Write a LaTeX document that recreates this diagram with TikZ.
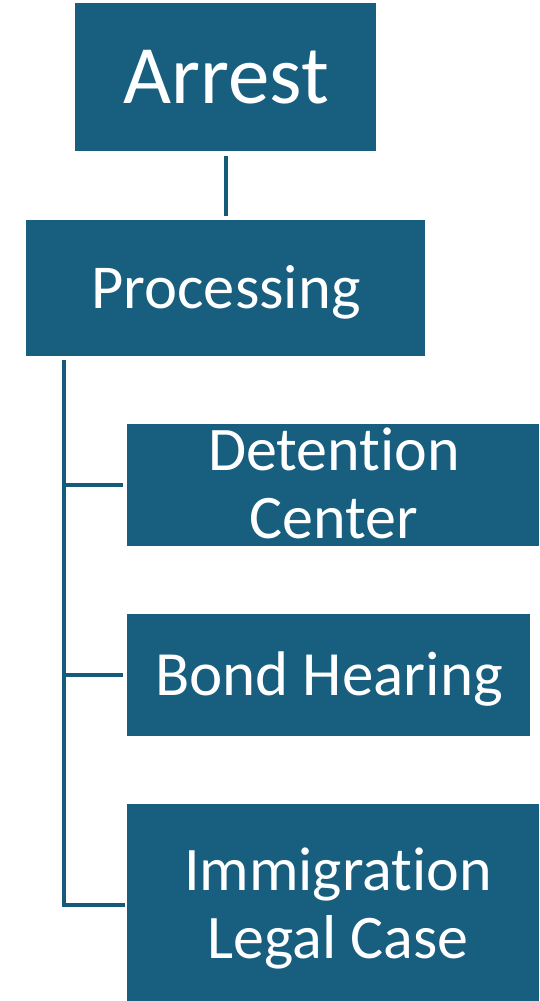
\documentclass[tikz,border=0pt]{standalone}
\usepackage{fontspec}
\setmainfont{Carlito}[Ligatures=NoCommon]
\definecolor{boxblue}{HTML}{175E7F}
\definecolor{linkblue}{HTML}{165A7A}
\begin{document}
\begin{tikzpicture}[x=1pt,y=-1pt,
  box/.style={fill=boxblue,draw=none,inner sep=0pt,anchor=north west},
  lbl/.style={text=white,anchor=base,inner sep=0pt,align=center},
  link/.style={draw=linkblue,line width=3.5pt}]
\useasboundingbox (0,0) rectangle (539,1001);
% boxes
\node[box,minimum width=301pt,minimum height=148pt] (arrest) at (75,3) {};
\node[box,minimum width=399pt,minimum height=136pt] (proc) at (26,220) {};
\node[box,minimum width=412pt,minimum height=122pt] (det) at (127,424) {};
\node[box,minimum width=403pt,minimum height=122pt] (bond) at (127,614) {};
\node[box,minimum width=412pt,minimum height=197pt] (imm) at (127,804) {};
% texts
\node[lbl,font=\fontsize{83}{90}\selectfont] (tarrest) at (226,103) {Arrest};
\node[lbl,font=\fontsize{62.5}{68}\selectfont] (tproc) at (226,308) {Processing};
\node[lbl,font=\fontsize{62}{68}\selectfont] (tdet1) at (334,470) {Detent\kern0pt ion};
\node[lbl,font=\fontsize{62}{68}\selectfont] (tdet2) at (334,538) {Center};
\node[lbl,font=\fontsize{63}{68}\selectfont] (tbond) at (329,695) {Bond Hearing};
\node[lbl,font=\fontsize{62}{68}\selectfont] (timm1) at (338,890) {Immigrat\kern0pt ion};
\node[lbl,font=\fontsize{62}{68}\selectfont] (timm2) at (338,958) {Legal Case};
% connectors
\coordinate (a1) at (226,156);
\coordinate (a2) at (226,216);
\draw[link] (a1) -- (a2);
\coordinate (top) at (64,360);
\coordinate (b1) at (64,485);
\coordinate (b2) at (64,675);
\coordinate (b3) at (64,905);
\draw[link] (top) -- (b3);
\draw[link] (b1) -- ([xshift=-4pt]b1 -| det.west);
\draw[link] (b2) -- ([xshift=-4pt]b2 -| bond.west);
\draw[link,line cap=rect] (b3) -- ([xshift=-4pt]b3 -| imm.west);
\end{tikzpicture}
\end{document}
